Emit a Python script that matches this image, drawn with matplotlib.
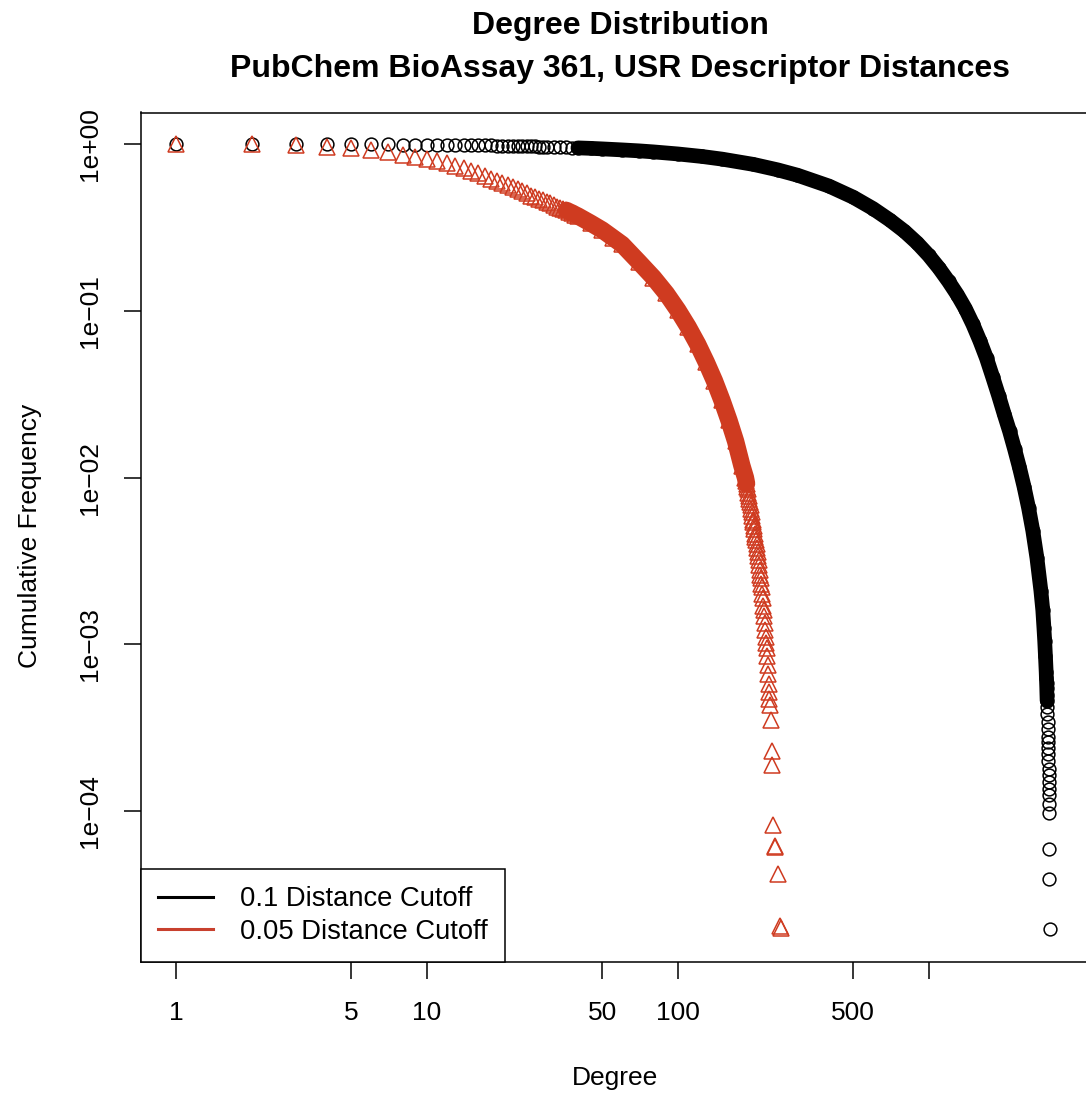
import matplotlib
matplotlib.use("Agg")
import matplotlib.pyplot as plt
import numpy as np
from matplotlib.lines import Line2D

plt.rcParams['font.family'] = ['Liberation Sans', 'DejaVu Sans']

# cumulative degree distribution, 0.1 cutoff (black circles)
black_deg = [1, 2, 3, 4, 5, 6, 7, 8, 9, 10, 11, 12, 13, 14, 15, 16, 17, 18, 19, 20,
             21, 22, 23, 24, 25, 26, 27, 28, 29, 30, 32, 34, 36, 38, 40, 45, 50, 60, 70, 80,
             100, 125, 150, 200, 250, 300, 400, 500, 600, 700, 800, 900, 1000, 1100, 1200,
             1300, 1400, 1500, 1600, 1700, 1800, 1900, 2000, 2100, 2200, 2300, 2400, 2500,
             2600, 2700, 2800, 2850, 2880, 2900, 2920, 2940, 2945, 2950, 2955, 2960, 2965,
             2970, 2975, 2980, 2985, 2988, 2992, 2995, 2998, 3000, 3003, 3005, 3008, 3010,
             3012, 3014, 3016, 3022, 3026, 3034]
black_cf = [1.0, 1.0, 0.999, 0.998, 0.997, 0.996, 0.995, 0.993, 0.992, 0.991, 0.99, 0.988,
            0.987, 0.986, 0.985, 0.983, 0.982, 0.98, 0.979, 0.978, 0.976, 0.975, 0.973, 0.972,
            0.97, 0.969, 0.967, 0.966, 0.964, 0.963, 0.96, 0.957, 0.954, 0.951, 0.948, 0.942,
            0.935, 0.922, 0.91, 0.897, 0.872, 0.842, 0.812, 0.755, 0.70, 0.65, 0.56, 0.48,
            0.41, 0.35, 0.30, 0.255, 0.215, 0.18, 0.15, 0.125, 0.103, 0.083, 0.066, 0.052,
            0.04, 0.031, 0.024, 0.019, 0.0148, 0.0115, 0.0088, 0.0066, 0.0048, 0.0033, 0.0021,
            0.0016, 0.00125, 0.00105, 0.00085, 0.00068, 0.00063, 0.00059, 0.00055, 0.0005,
            0.00046, 0.00042, 0.00038, 0.00034, 0.00031, 0.00028, 0.00026, 0.00024, 0.00022,
            0.0002, 0.00018, 0.000165, 0.00015, 0.000135, 0.000125, 0.00011, 0.000098,
            0.000059, 0.000039, 0.0000196]

# cumulative degree distribution, 0.05 cutoff (red triangles)
red_deg = [1, 2, 3, 4, 5, 6, 7, 8, 9, 10, 11, 12, 13, 14, 15, 16, 17, 18, 19, 20,
           21, 22, 23, 24, 25, 26, 27, 28, 29, 30, 31, 32, 33, 34, 35, 36, 37, 38, 39, 40,
           45, 50, 55, 60, 70, 80, 90, 100, 110, 120, 130, 140, 150, 160, 170, 180,
           186, 187, 188, 189, 190, 191, 192, 193, 194, 195, 196, 197, 198, 199, 200,
           201, 202, 203, 204, 205, 206, 207, 208, 209, 210, 211, 212, 213, 214, 215,
           216, 217, 218, 219, 220, 221, 222, 223, 224, 225, 226, 227, 228, 229, 230,
           231, 232, 233, 235, 237, 238, 239, 244, 245, 252, 256, 257]
red_cf = [1.0, 0.995, 0.982, 0.962, 0.94, 0.915, 0.89, 0.865, 0.84, 0.815, 0.79, 0.765,
          0.74, 0.715, 0.69, 0.67, 0.645, 0.62, 0.6, 0.58, 0.565, 0.55, 0.535, 0.52, 0.505,
          0.49, 0.48, 0.47, 0.46, 0.45, 0.44, 0.43, 0.422, 0.415, 0.407, 0.4, 0.392, 0.385,
          0.377, 0.37, 0.335, 0.305, 0.275, 0.25, 0.196, 0.158, 0.127, 0.101, 0.08, 0.063,
          0.049, 0.038, 0.029, 0.022, 0.0165, 0.0118,
          0.01, 0.0096, 0.0092, 0.0088, 0.0085, 0.0081, 0.0078, 0.0074, 0.0071, 0.0068,
          0.0065, 0.0062, 0.0059, 0.0056, 0.0054, 0.0051, 0.0049, 0.0046, 0.0044, 0.0042,
          0.004, 0.0038, 0.0036, 0.0034, 0.0032, 0.003, 0.0028, 0.0026, 0.0025, 0.0023,
          0.0022, 0.002, 0.0019, 0.0017, 0.0016, 0.00148, 0.00135, 0.00122, 0.0011,
          0.00102, 0.00095, 0.00085, 0.00075, 0.00066, 0.00058, 0.00052, 0.00047, 0.00043,
          0.00035, 0.00023, 0.00019, 0.000082, 0.000062, 0.000061, 0.000042, 0.0000205,
          0.00002]

legend_labels = ['0.1 Distance Cutoff', '0.05 Distance Cutoff']
x_ticks = [1, 5, 10, 50, 100, 500, 1000]
x_tick_labels = ['1', '5', '10', '50', '100', '500', '']
y_ticks = [1, 1e-1, 1e-2, 1e-3, 1e-4]
y_tick_labels = ['1e+00', '1e\u221201', '1e\u221202', '1e\u221203', '1e\u221204']

RED = '#cf3b20'
W, H = 1086, 1097

fig = plt.figure(figsize=(W / 100, H / 100), dpi=100)
# plot region in pixels: left 141, right ~1087, top 112.5, bottom 962
ax = fig.add_axes([141 / W, 1 - 962 / H, (1087 - 141) / W, (962 - 112.5) / H])
ax.set_xscale('log')
ax.set_yscale('log')
ax.set_xlim(10 ** -0.1395, 10 ** 3.631)
ax.set_ylim(10 ** -4.905, 10 ** 0.189)

bd = np.array(black_deg)
bc = np.array(black_cf)
rd = np.array(red_deg)
rc = np.array(red_cf)

# where the points pile up they form a solid band
band_b = (bd >= 40) & (bd <= 2965)
band_r = (rd >= 36) & (rd <= 188)

ax.plot(bd[band_b], bc[band_b], color='black', lw=10.6, solid_capstyle='round',
        solid_joinstyle='round', zorder=2)
ax.plot(bd, bc, 'o', mfc='none', mec='black', ms=9.2, mew=1.1, zorder=2)

ax.plot(rd[band_r], rc[band_r], color=RED, lw=12.5, solid_capstyle='round',
        solid_joinstyle='round', zorder=3)
ax.plot(rd, rc, '^', mfc='none', mec=RED, ms=12, mew=1.1, zorder=3)

ax.minorticks_off()
ax.set_xticks(x_ticks)
ax.set_xticklabels(x_tick_labels)
ax.set_yticks(y_ticks)
ax.set_yticklabels(y_tick_labels, rotation=90, va='center')
ax.tick_params(axis='both', direction='out', length=12.2, width=1.1, labelsize=19)
ax.tick_params(axis='x', pad=16)
ax.tick_params(axis='y', pad=16)
for s in ax.spines.values():
    s.set_linewidth(1.1)

handles = [Line2D([], [], color='black', lw=2.2), Line2D([], [], color='#c8402e', lw=2.2)]
leg = ax.legend(handles, legend_labels, loc='lower left', bbox_to_anchor=(0, 0),
                borderaxespad=0, fancybox=False, edgecolor='black', framealpha=1,
                fontsize=19.7, handlelength=2.0, handletextpad=1.0, borderpad=0.62,
                labelspacing=0.25)
leg.get_frame().set_linewidth(1.1)

fig.text(620 / W, 1 - 26 / H, 'Degree Distribution', ha='center', va='center',
         fontsize=23, fontweight='bold')
fig.text(620 / W, 1 - 69 / H, 'PubChem BioAssay 361, USR Descriptor Distances',
         ha='center', va='center', fontsize=23, fontweight='bold')
fig.text(615 / W, 1 - 1078 / H, 'Degree', ha='center', va='center', fontsize=19)
fig.text(30 / W, 1 - 536 / H, 'Cumulative Frequency', ha='center', va='center',
         fontsize=19, rotation=90)

fig.savefig('out.png', dpi=100, facecolor='white')
